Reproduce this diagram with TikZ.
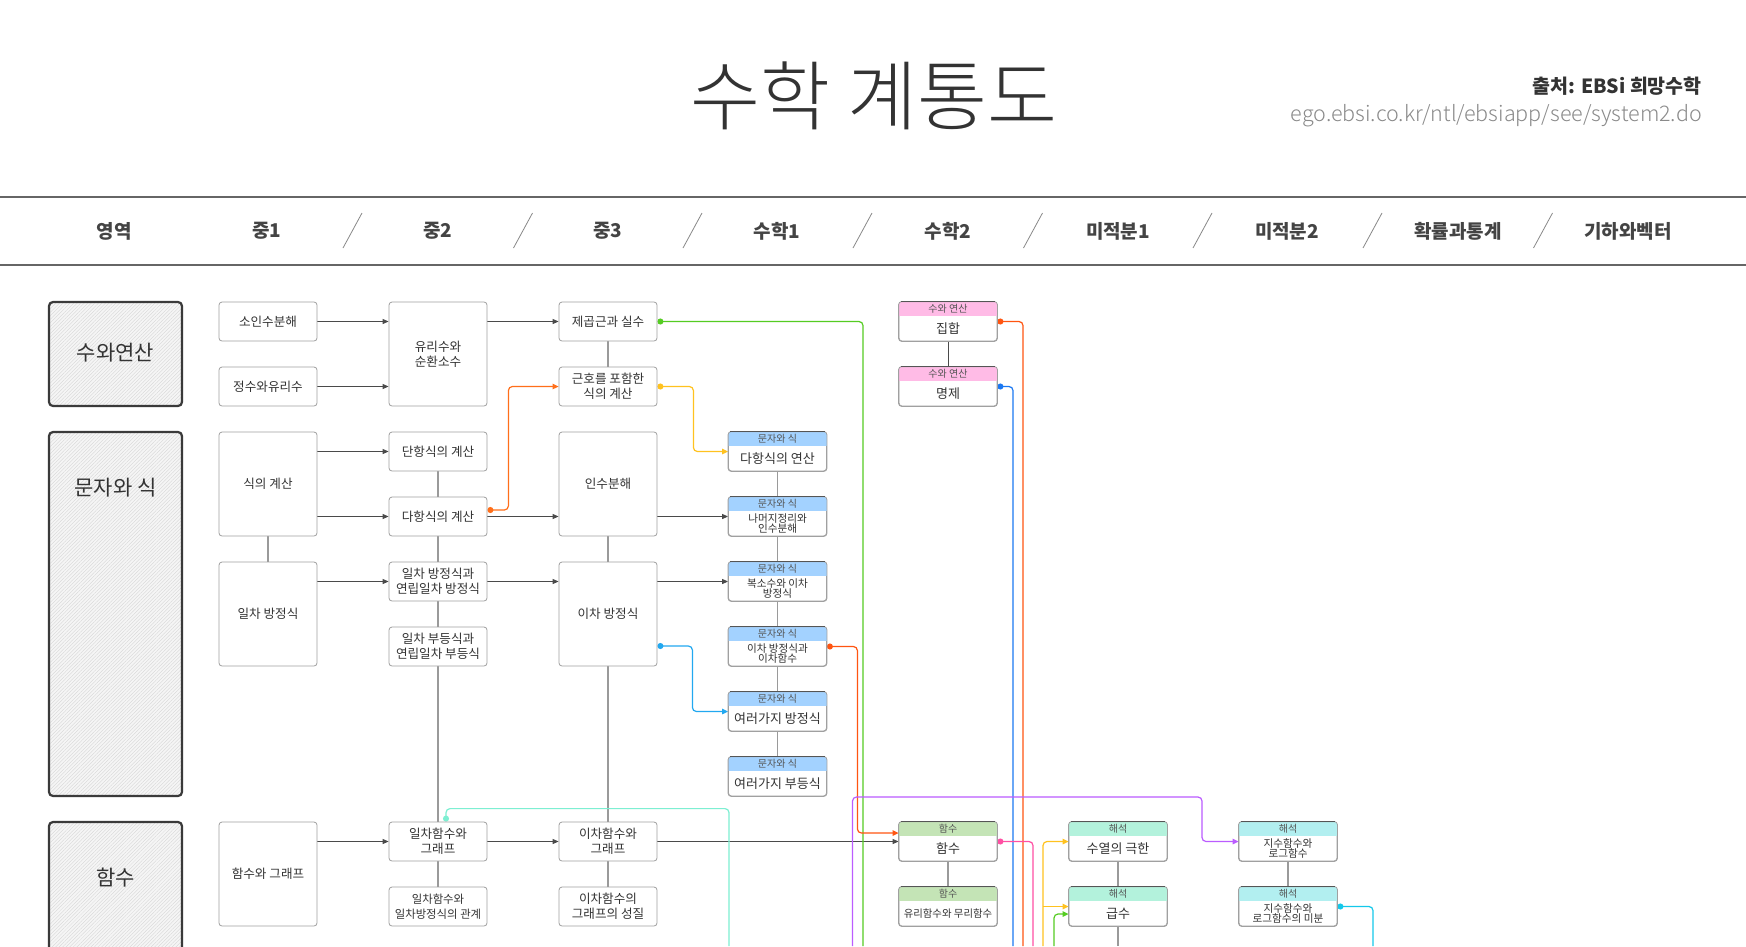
\documentclass[tikz,border=0pt]{standalone}
\usepackage{fontspec}
\newfontfamily\kr{Noto Sans CJK KR}
\IfFontExistsTF{Noto Sans CJK KR Light}{\newfontfamily\krl{Noto Sans CJK KR Light}}{\newfontfamily\krl{Noto Sans CJK KR}}
\usetikzlibrary{arrows.meta,patterns.meta}
\pgfdeclarelayer{back}
\pgfdeclarelayer{bg}
\pgfsetlayers{back,bg,main}
\definecolor{txt}{HTML}{333333}
\definecolor{boxgray}{HTML}{A0A0A0}
\definecolor{arrdark}{HTML}{4A4A4A}
\definecolor{linkgray}{HTML}{9A9A9A}
\definecolor{catdark}{HTML}{3A3A3A}
\definecolor{catfill}{HTML}{F5F5F5}
\definecolor{hatch}{HTML}{D4D4D4}
\definecolor{hBlue}{HTML}{A3D2FF}
\definecolor{hPink}{HTML}{FFBBE6}
\definecolor{hGreen}{HTML}{C4E4B6}
\definecolor{hMint}{HTML}{B3F2DC}
\definecolor{hCyan}{HTML}{B2EFF0}
\definecolor{cOrange}{HTML}{FF6F1A}
\definecolor{cGreen}{HTML}{55CC22}
\definecolor{cYellow}{HTML}{FFC21F}
\definecolor{cRed}{HTML}{FF5511}
\definecolor{cBlue}{HTML}{1B78F2}
\definecolor{cSky}{HTML}{22A8F0}
\definecolor{cAqua}{HTML}{7DEFD2}
\definecolor{cPurple}{HTML}{BB5CFF}
\definecolor{cPink}{HTML}{FF4FA3}
\definecolor{cCyan}{HTML}{14C8EA}
\definecolor{rulegray}{HTML}{666666}
\definecolor{urlgray}{HTML}{8A8A8A}
\definecolor{coltxt}{HTML}{444444}
\definecolor{htxt}{HTML}{555555}
\definecolor{slashgray}{HTML}{888888}

% header node: name, x, y, header colour, header text, body text, body font size
\newcommand{\HNode}[7]{%
  \node[box] (#1) at (#2,#3) {};
  \begin{scope}
    \clip[rounded corners=3pt] (#1.north west) rectangle (#1.south east);
    \fill[#4] (#1.north west) rectangle ([yshift=-14pt]#1.north east);
  \end{scope}
  \draw[boxgray, line width=0.8pt, rounded corners=3pt] (#1.north west) rectangle (#1.south east);
  \draw[htxt, line width=0.9pt] ([xshift=2pt]#1.north west) -- ([xshift=-2pt]#1.north east);
  \node[hdrtxt] (#1h) at ([yshift=-7pt]#1.north) {#5};
  \node[bodytxt, font=\kr\fontsize{#7}{#7}\selectfont] (#1b) at ([yshift=-7pt]#1.center) {#6};
}

\begin{document}
\begin{tikzpicture}[x=1pt,y=-1pt,
  every node/.style={font=\kr, text=txt},
  box/.style={draw=boxgray, line width=0.8pt, rounded corners=3pt, fill=white,
    minimum width=98pt, minimum height=39pt, inner sep=0pt, align=center,
    font=\kr\fontsize{12.6}{15}\selectfont},
  tall/.style={box, minimum height=104pt},
  hdrtxt/.style={inner sep=0pt, text=htxt, font=\kr\fontsize{10}{10}\selectfont},
  bodytxt/.style={inner sep=0pt, align=center, text=txt},
  cat/.style={draw=catdark, line width=2.2pt, rounded corners=4pt,
    preaction={fill=catfill},
    pattern={Lines[angle=45,distance=2.5pt,line width=0.35pt]}, pattern color=hatch,
    minimum width=133pt, inner sep=0pt},
  cattxt/.style={inner sep=0pt, text=txt, font=\kr\fontsize{21}{21}\selectfont},
  collab/.style={inner sep=0pt, text=coltxt, font=\kr\bfseries\fontsize{19}{19}\selectfont},
  slashln/.style={draw=slashgray, line width=0.8pt},
  hdrrule/.style={draw=rulegray, line width=2.5pt},
  arr/.style={draw=arrdark, line width=1pt, -{Triangle[length=6pt,width=5pt]}},
  link/.style={draw=linkgray, line width=1.6pt},
  connSE/.style={line width=1.2pt, rounded corners=4pt, {Circle[length=6pt]}-{Triangle[length=6pt,width=5.5pt]}},
  connS/.style={line width=1.2pt, rounded corners=4pt, {Circle[length=6pt]}-},
  connE/.style={line width=1.2pt, rounded corners=4pt, -{Triangle[length=6pt,width=5.5pt]}}
]
\begin{pgfonlayer}{back}
  \fill[white] (0,0) rectangle (1746,946);
\end{pgfonlayer}
\useasboundingbox (0,0) rectangle (1746,946);

% ---------- title block ----------
\node[inner sep=0pt, text=txt, font=\krl\fontsize{76}{76}\selectfont] (title) at (874,96) {수학 계통도};
\node[inner sep=0pt, anchor=east, text=txt, font=\kr\bfseries\fontsize{19.5}{19.5}\selectfont] (src) at (1702,86) {출처: EBSi 희망수학};
\node[inner sep=0pt, anchor=east, text=urlgray, font=\krl\fontsize{21.5}{21.5}\selectfont] (url) at (1702,116) {ego.ebsi.co.kr/ntl/ebsiapp/see/system2.do};

% ---------- column header band ----------
\draw[hdrrule] (0,197) -- (1746,197);
\draw[hdrrule] (0,265) -- (1746,265);
\node[collab] (h0) at (114,231) {영역};
\node[collab] (h1) at (267,231) {중1};
\node[collab] (h2) at (438,231) {중2};
\node[collab] (h3) at (608,231) {중3};
\node[collab] (h4) at (777,231) {수학1};
\node[collab] (h5) at (948,231) {수학2};
\node[collab] (h6) at (1118,231) {미적분1};
\node[collab] (h7) at (1287,231) {미적분2};
\node[collab] (h8) at (1458,231) {확률과통계};
\node[collab] (h9) at (1628,231) {기하와벡터};
\foreach \c in {352.5,523,692.5,862.5,1033,1202.5,1372.5,1543}{
  \draw[slashln] (\c-9.5,248) -- (\c+9.5,213);
}

% ---------- category boxes ----------
\node[cat, minimum height=104pt] (catA) at (115.5,354) {};
\node[cattxt] (catAt) at (115.5,353) {수와연산};
\node[cat, minimum height=364pt] (catB) at (115.5,614) {};
\node[cattxt] (catBt) at (115.5,488) {문자와 식};
\node[cat, minimum height=200pt] (catC) at (115.5,922) {};
\node[cattxt] (catCt) at (115.5,878) {함수};

% ---------- 중1 ----------
\node[box] (soin) at (268,321.5) {소인수분해};
\node[box] (jeongsu) at (268,386.5) {정수와유리수};
\node[tall] (sikgye) at (268,484) {식의 계산};
\node[tall] (ileqA) at (268,614) {일차 방정식};
\node[tall] (hamgr) at (268,874) {함수와 그래프};

% ---------- 중2 ----------
\node[tall] (yuri) at (438,354) {유리수와\\순환소수};
\node[box] (dan) at (438,451.5) {단항식의 계산};
\node[box] (dah) at (438,516.5) {다항식의 계산};
\node[box] (ileqB) at (438,581.5) {일차 방정식과\\연립일차 방정식};
\node[box] (ilbu) at (438,646.5) {일차 부등식과\\연립일차 부등식};
\node[box] (ilham) at (438,841.5) {일차함수와\\그래프};
\node[box, font=\kr\fontsize{11.4}{14.5}\selectfont] (ilgwan) at (438,906.5) {일차함수와\\일차방정식의 관계};

% ---------- 중3 ----------
\node[box] (sq) at (608,321.5) {제곱근과 실수};
\node[box] (gunho) at (608,386.5) {근호를 포함한\\식의 계산};
\node[tall] (insu) at (608,484) {인수분해};
\node[tall] (eqB) at (608,614) {이차 방정식};
\node[box] (iham) at (608,841.5) {이차함수와\\그래프};
\node[box] (ihamsj) at (608,906.5) {이차함수의\\그래프의 성질};

% ---------- 수학1 ----------
\HNode{dahy}{777.5}{451.5}{hBlue}{문자와 식}{다항식의 연산}{13}
\HNode{namu}{777.5}{516.5}{hBlue}{문자와 식}{나머지정리와\\인수분해}{10.6}
\HNode{boksu}{777.5}{581.5}{hBlue}{문자와 식}{복소수와 이차\\방정식}{10.6}
\HNode{eqfn}{777.5}{646.5}{hBlue}{문자와 식}{이차 방정식과\\이차함수}{10.6}
\HNode{yeoeq}{777.5}{711.5}{hBlue}{문자와 식}{여러가지 방정식}{13}
\HNode{yeobu}{777.5}{776.5}{hBlue}{문자와 식}{여러가지 부등식}{13}

% ---------- 수학2 ----------
\HNode{jiphap}{948}{321.5}{hPink}{수와 연산}{집합}{13}
\HNode{myeong}{948}{386.5}{hPink}{수와 연산}{명제}{13}
\HNode{hamsu}{948}{841.5}{hGreen}{함수}{함수}{13}
\HNode{yuham}{948}{906.5}{hGreen}{함수}{유리함수와 무리함수}{10.4}

% ---------- 미적분1 / 미적분2 ----------
\HNode{suyeol}{1118}{841.5}{hMint}{해석}{수열의 극한}{13}
\HNode{geupsu}{1118}{906.5}{hMint}{해석}{급수}{13}
\HNode{jisu}{1288}{841.5}{hCyan}{해석}{지수함수와\\로그함수}{10.6}
\HNode{jisumi}{1288}{906.5}{hCyan}{해석}{지수함수와\\로그함수의 미분}{10.6}

% free ends at the lower edge
\coordinate (aB) at (729,946);
\coordinate (pB) at (852.5,946);
\coordinate (gB) at (863,946);
\coordinate (bB) at (1013,946);
\coordinate (rB) at (1023,946);
\coordinate (pkB) at (1033,946);
\coordinate (yB) at (1043,946);
\coordinate (g2B) at (1054,946);
\coordinate (sB) at (1118,946);
\coordinate (cB) at (1373,946);
\coordinate (pturn) at (1202,797);

\begin{pgfonlayer}{bg}
% grey links
\draw[link] (sq.south) -- (gunho.north);
\draw[link] (dan.south) -- (dah.north);
\draw[link] (dah.south) -- (ileqB.north);
\draw[link] (ileqB.south) -- (ilbu.north);
\draw[link] (ilbu.south) -- (ilham.north);
\draw[link] (ilham.south) -- (ilgwan.north);
\draw[link] (sikgye.south) -- (ileqA.north);
\draw[link] (insu.south) -- (eqB.north);
\draw[link] (eqB.south) -- (iham.north);
\draw[link] (iham.south) -- (ihamsj.north);
\draw[link] (dahy.south) -- (namu.north);
\draw[link] (namu.south) -- (boksu.north);
\draw[link] (boksu.south) -- (eqfn.north);
\draw[link] (eqfn.south) -- (yeoeq.north);
\draw[link] (yeoeq.south) -- (yeobu.north);
\draw[link] (hamsu.south) -- (yuham.north);
\draw[link] (suyeol.south) -- (geupsu.north);
\draw[link] (geupsu.south) -- (sB);
\draw[link] (jisu.south) -- (jisumi.north);
\draw[draw=arrdark, line width=1pt] (jiphap.south) -- (myeong.north);

% dark arrows
\draw[arr] (soin.east) -- (soin.east -| yuri.west);
\draw[arr] (jeongsu.east) -- (jeongsu.east -| yuri.west);
\draw[arr] (yuri.east |- sq.west) -- (sq.west);
\draw[arr] (sikgye.east |- dan.west) -- (dan.west);
\draw[arr] (sikgye.east |- dah.west) -- (dah.west);
\draw[arr] (dah.east) -- (dah.east -| insu.west);
\draw[arr] (ileqA.east |- ileqB.west) -- (ileqB.west);
\draw[arr] (ileqB.east) -- (ileqB.east -| eqB.west);
\draw[arr] (insu.east |- namu.west) -- (namu.west);
\draw[arr] (eqB.east |- boksu.west) -- (boksu.west);
\draw[arr] (hamgr.east |- ilham.west) -- (ilham.west);
\draw[arr] (ilham.east) -- (iham.west);
\draw[arr] (iham.east) -- (hamsu.west);

% coloured connectors
\draw[connSE, cOrange] ([yshift=6.5pt]dah.east) -- ++(21,0) |- (gunho.west);
\draw[connSE, cYellow] (gunho.east) -- ++(36,0) |- (dahy.west);
\draw[connS, cGreen] (sq.east) -| (gB);
\draw[connSE, cSky] ([yshift=-32pt]eqB.east) -- ++(35,0) |- (yeoeq.west);
\draw[connSE, cRed] (eqfn.east) -- ++(30.5,0) |- ([yshift=8.5pt]hamsu.west);
\draw[connS, cAqua] ([xshift=8pt]ilham.north) -- ++(0,-13) -| (aB);
\draw[connS, cRed] (jiphap.east) -| (rB);
\draw[connS, cBlue] (myeong.east) -| (bB);
\draw[connS, cPink] (hamsu.east) -| (pkB);
\draw[connE, cPurple] (pB) |- (pturn) |- (jisu.west);
\draw[connE, cYellow] (yB) |- (suyeol.west);
\draw[connE, cYellow, rounded corners=0pt] ([xshift=-26pt]geupsu.west) -- (geupsu.west);
\draw[connE, cGreen] (g2B) |- ([yshift=-7.5pt]geupsu.west);
\draw[connS, cCyan] (jisumi.east) -| (cB);
\end{pgfonlayer}
\end{tikzpicture}
\end{document}
